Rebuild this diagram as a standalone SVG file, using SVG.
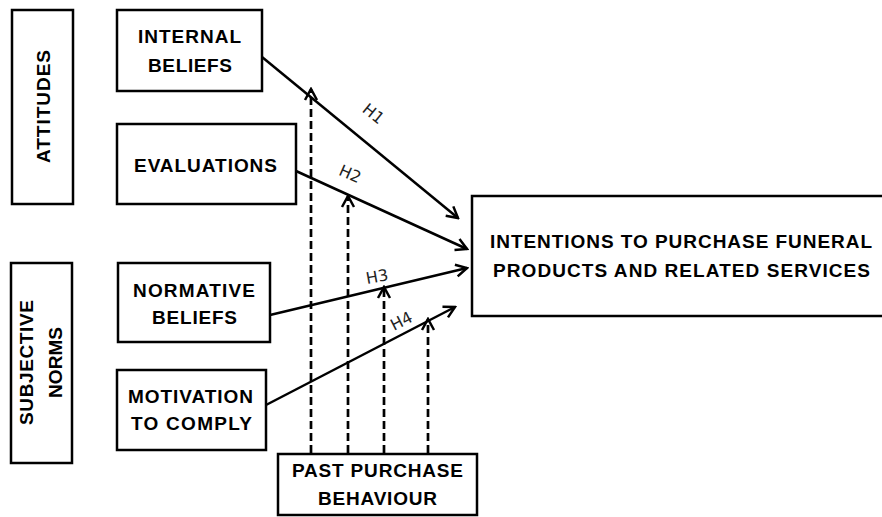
<svg xmlns="http://www.w3.org/2000/svg" width="882" height="517" viewBox="0 0 882 517">
<style>
.box{fill:#fff;stroke:#000;stroke-width:2.5}
.t{font-family:"Liberation Sans",Arial,sans-serif;font-weight:bold;font-size:19px;fill:#000;text-anchor:middle}
.h{font-family:"DejaVu Sans",Verdana,sans-serif;font-size:16px;fill:#222;text-anchor:middle}
.solid{stroke:#000;stroke-width:2.5;fill:none}
.dash{stroke:#000;stroke-width:2.7;fill:none;stroke-dasharray:8 4}
</style>
<defs>
<marker id="arr" viewBox="-13 -8 15 16" refX="0" refY="0" markerWidth="15" markerHeight="16" markerUnits="userSpaceOnUse" orient="auto">
<path d="M-11,-6 L0,0 L-11,6" fill="none" stroke="#000" stroke-width="2.5" stroke-dasharray="none"/>
</marker>
</defs>
<g id="connectors">
<line class="solid" x1="262" y1="57" x2="458" y2="218" marker-end="url(#arr)"/>
<line class="solid" x1="296" y1="171" x2="467" y2="249" marker-end="url(#arr)"/>
<line class="solid" x1="270" y1="315" x2="467" y2="268" marker-end="url(#arr)"/>
<line class="solid" x1="266" y1="405" x2="455" y2="307" marker-end="url(#arr)"/>
<line class="dash" x1="311" y1="453" x2="311" y2="89" marker-end="url(#arr)"/>
<line class="dash" x1="348" y1="453" x2="348" y2="196" marker-end="url(#arr)"/>
<line class="dash" x1="384" y1="453" x2="384" y2="287" marker-end="url(#arr)"/>
<line class="dash" x1="428" y1="453" x2="428" y2="319" marker-end="url(#arr)"/>
<text class="h" transform="translate(370,118) rotate(39)">H1</text>
<text class="h" transform="translate(348,179) rotate(24)">H2</text>
<text class="h" transform="translate(378,282) rotate(-10)">H3</text>
<text class="h" transform="translate(404,326) rotate(-27)">H4</text>
</g>
<g id="attitudes">
<rect class="box" x="12" y="10" width="61" height="194"/>
<text class="t" transform="translate(50,106.5) rotate(-90)" textLength="113" lengthAdjust="spacing">ATTITUDES</text>
</g>
<g id="internal-beliefs">
<rect class="box" x="117" y="10" width="145" height="81"/>
<text class="t" x="189.5" y="43" textLength="103" lengthAdjust="spacing">INTERNAL</text>
<text class="t" x="190" y="72" textLength="84" lengthAdjust="spacing">BELIEFS</text>
</g>
<g id="evaluations">
<rect class="box" x="117" y="124" width="179" height="80"/>
<text class="t" x="205.5" y="172" textLength="143" lengthAdjust="spacing">EVALUATIONS</text>
</g>
<g id="subjective-norms">
<rect class="box" x="11" y="263" width="61" height="200"/>
<text class="t" transform="translate(33,362.5) rotate(-90)" textLength="125" lengthAdjust="spacing">SUBJECTIVE</text>
<text class="t" transform="translate(62,362.5) rotate(-90)" textLength="71" lengthAdjust="spacing">NORMS</text>
</g>
<g id="normative-beliefs">
<rect class="box" x="118" y="263" width="152" height="79"/>
<text class="t" x="194" y="297" textLength="122" lengthAdjust="spacing">NORMATIVE</text>
<text class="t" x="194.5" y="324" textLength="85" lengthAdjust="spacing">BELIEFS</text>
</g>
<g id="motivation-to-comply">
<rect class="box" x="117" y="370" width="149" height="80"/>
<text class="t" x="190.5" y="403" textLength="125" lengthAdjust="spacing">MOTIVATION</text>
<text class="t" x="191.5" y="430" textLength="121" lengthAdjust="spacing">TO COMPLY</text>
</g>
<g id="past-purchase-behaviour">
<rect class="box" x="278" y="454" width="199" height="61"/>
<text class="t" x="377.5" y="477" textLength="171" lengthAdjust="spacing">PAST PURCHASE</text>
<text class="t" x="377.5" y="505" textLength="119" lengthAdjust="spacing">BEHAVIOUR</text>
</g>
<g id="intentions">
<rect class="box" x="472" y="196" width="420" height="120"/>
<text class="t" x="681" y="248" textLength="382" lengthAdjust="spacing">INTENTIONS TO PURCHASE FUNERAL</text>
<text class="t" x="681.5" y="277" textLength="377" lengthAdjust="spacing">PRODUCTS AND RELATED SERVICES</text>
</g>
</svg>
